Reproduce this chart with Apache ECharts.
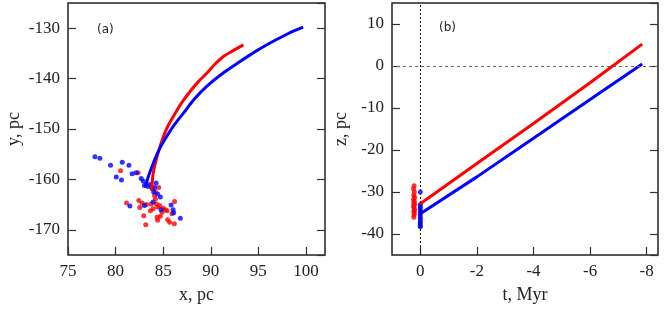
<!DOCTYPE html>
<html><head><meta charset="utf-8">
<script src="https://cdn.jsdelivr.net/npm/echarts@6/dist/echarts.min.js"></script>
<style>html,body{margin:0;padding:0;background:#fff}#c{width:664px;height:309px}</style>
</head><body><div id="c"></div>
<script>
// Panel (a): trajectories in x-y plane
const redTrackXY = [[93.43,-133.3],[92.4,-134.4],[91.33,-135.6],[90.4,-137.2],[89.6,-138.9],[88.7,-140.6],[87.85,-142.5],[86.9,-144.9],[86.1,-147.4],[85.5,-149.4],[85.05,-151.4],[84.6,-153.9],[84.2,-156.6],[83.95,-158.8],[83.85,-160.5],[83.8,-162.2]];
const blueTrackXY = [[99.7,-129.8],[98.1,-131.1],[96.57,-132.6],[94.8,-134.5],[93.08,-136.6],[91.3,-138.9],[89.6,-141.5],[88.3,-144.0],[87.15,-146.8],[86.2,-149.1],[85.4,-151.4],[84.6,-154.0],[84.0,-156.6],[83.6,-158.6],[83.3,-160.3],[83.1,-161.6]];
const redStarsXY = [[80.52,-158.3],[82.37,-158.7],[81.15,-164.7],[82.44,-164.2],[82.79,-164.7],[82.54,-165.6],[83.24,-165.0],[83.73,-164.9],[82.96,-167.2],[83.17,-169.0],[84.53,-161.6],[84.18,-162.5],[84.18,-163.9],[84.29,-164.9],[84.42,-165.5],[84.63,-165.2],[84.99,-165.7],[85.23,-166.0],[85.41,-166.2],[84.88,-166.5],[84.36,-167.5],[84.7,-167.3],[84.42,-168.1],[85.47,-168.0],[85.93,-166.8],[86.2,-164.4],[85.68,-168.5],[86.17,-168.8],[83.66,-166.2],[83.94,-165.8],[84.1,-163.2]];
const blueStarsXY = [[77.83,-155.5],[78.35,-155.8],[79.47,-157.2],[80.7,-156.6],[81.4,-157.2],[80.07,-159.5],[80.62,-160.1],[81.74,-158.9],[82.16,-158.7],[82.69,-159.8],[82.9,-160.3],[83.03,-161.2],[83.42,-161.4],[83.84,-161.8],[84.26,-160.7],[84.0,-162.5],[84.42,-162.9],[84.7,-163.5],[83.94,-164.5],[81.5,-165.3],[83.03,-165.2],[84.78,-166.0],[85.83,-165.1],[86.04,-166.0],[86.1,-166.6],[86.8,-167.7],[83.6,-161.0],[84.1,-161.6]];
// Panel (b): z versus time
const redTrackTZ = [[0,-32.8],[-2,-23.2],[-4,-13.7],[-6,-4.0],[-7.84,5.2]];
const blueTrackTZ = [[0,-35.2],[-2,-26.4],[-4,-17.2],[-6,-8.0],[-7.84,0.5]];
const redStarsTZ = [[0.22,-28.5],[0.24,-29.2],[0.21,-30.0],[0.23,-30.8],[0.2,-31.3],[0.24,-31.8],[0.21,-32.2],[0.23,-32.6],[0.2,-33.0],[0.24,-33.4],[0.22,-33.8],[0.2,-34.2],[0.23,-34.6],[0.21,-35.0],[0.22,-35.4],[0.23,-36.0]];
const blueStarsTZ = [[0,-30.0],[0,-33.0],[0,-33.5],[0,-34.0],[0,-34.5],[0,-35.0],[0,-35.5],[0,-36.0],[0,-36.5],[0,-37.0],[0,-37.5],[0,-38.0],[0,-38.3]];
const labels = {xA:'x, pc', yA:'y, pc', xB:'t, Myr', yB:'z, pc', pA:'(a)', pB:'(b)'};

const SERIF = 'Liberation Serif';
const tick = () => ({show:true, inside:true, length:8, lineStyle:{color:'#333', width:1.2}});
const lab = (o) => Object.assign({fontFamily:SERIF, fontSize:17, color:'#222', margin:8}, o || {});
const nameStyle = () => ({color:'#222', fontFamily:SERIF, fontSize:18});
const noLine = () => ({show:false, onZero:false});
const panelTitle = {fontFamily:'DejaVu Sans', fontSize:12, fontWeight:'normal', color:'#222'};

const chart = echarts.init(document.getElementById('c'));
chart.setOption({
  animation:false,
  title:[
    {text:labels.pA, left:97, top:24, padding:0, textStyle:panelTitle},
    {text:labels.pB, left:439, top:22, padding:0, textStyle:panelTitle}
  ],
  grid:[
    {left:68, right:339, top:3, bottom:53, show:true, borderColor:'#222', borderWidth:1.5, backgroundColor:'transparent'},
    {left:392, right:6, top:3, bottom:53, show:true, borderColor:'#222', borderWidth:1.5, backgroundColor:'transparent'}
  ],
  xAxis:[
    {gridIndex:0, type:'value', min:75, max:102, interval:5, axisLine:noLine(), axisTick:tick(), splitLine:{show:false},
     axisLabel:lab({showMaxLabel:false}),
     name:labels.xA, nameLocation:'middle', nameGap:31, nameTextStyle:nameStyle()},
    {gridIndex:1, type:'value', min:-8.4, max:1, inverse:true, splitNumber:5, axisLine:noLine(), axisTick:tick(), splitLine:{show:false},
     axisLabel:lab({showMaxLabel:false, showMinLabel:false}),
     name:labels.xB, nameLocation:'middle', nameGap:31, nameTextStyle:nameStyle()}
  ],
  yAxis:[
    {gridIndex:0, type:'value', min:-175, max:-125, splitNumber:5, axisLine:noLine(), axisTick:tick(), splitLine:{show:false},
     axisLabel:lab({showMaxLabel:false, showMinLabel:false}),
     name:labels.yA, nameLocation:'middle', nameGap:45, nameTextStyle:nameStyle()},
    {gridIndex:0, type:'value', position:'right', min:-175, max:-125, splitNumber:5, axisLine:noLine(), axisTick:tick(), splitLine:{show:false}, axisLabel:{show:false}},
    {gridIndex:1, type:'value', min:-45, max:15, splitNumber:6, axisLine:noLine(), axisTick:tick(), splitLine:{show:false},
     axisLabel:lab({showMaxLabel:false, showMinLabel:false}),
     name:labels.yB, nameLocation:'middle', nameGap:42, nameTextStyle:nameStyle()},
    {gridIndex:1, type:'value', position:'right', min:-45, max:15, splitNumber:6, axisLine:noLine(), axisTick:tick(), splitLine:{show:false}, axisLabel:{show:false}}
  ],
  series:[
    {type:'line', xAxisIndex:0, yAxisIndex:0, data:redTrackXY, smooth:0.3, showSymbol:false, lineStyle:{color:'#ff0000', width:3}},
    {type:'line', xAxisIndex:0, yAxisIndex:0, data:blueTrackXY, smooth:0.3, showSymbol:false, lineStyle:{color:'#0000ff', width:3}},
    {type:'scatter', xAxisIndex:0, yAxisIndex:0, data:redStarsXY, symbolSize:5, itemStyle:{color:'#ff0000'}},
    {type:'scatter', xAxisIndex:0, yAxisIndex:0, data:blueStarsXY, symbolSize:5, itemStyle:{color:'#0000ff'}},
    {type:'line', xAxisIndex:1, yAxisIndex:2, data:redTrackTZ, showSymbol:false, lineStyle:{color:'#ff0000', width:3},
     markLine:{silent:true, symbol:'none', label:{show:false}, data:[
       {yAxis:0, lineStyle:{color:'#666', type:[3,3], width:1}},
       {xAxis:0, lineStyle:{color:'#111', type:[2,2], width:1}}
     ]}},
    {type:'line', xAxisIndex:1, yAxisIndex:2, data:blueTrackTZ, showSymbol:false, lineStyle:{color:'#0000ff', width:3}},
    {type:'scatter', xAxisIndex:1, yAxisIndex:2, data:redStarsTZ, symbolSize:5, itemStyle:{color:'#ff0000'}},
    {type:'scatter', xAxisIndex:1, yAxisIndex:2, data:blueStarsTZ, symbolSize:5, itemStyle:{color:'#0000ff'}}
  ]
});
</script></body></html>
